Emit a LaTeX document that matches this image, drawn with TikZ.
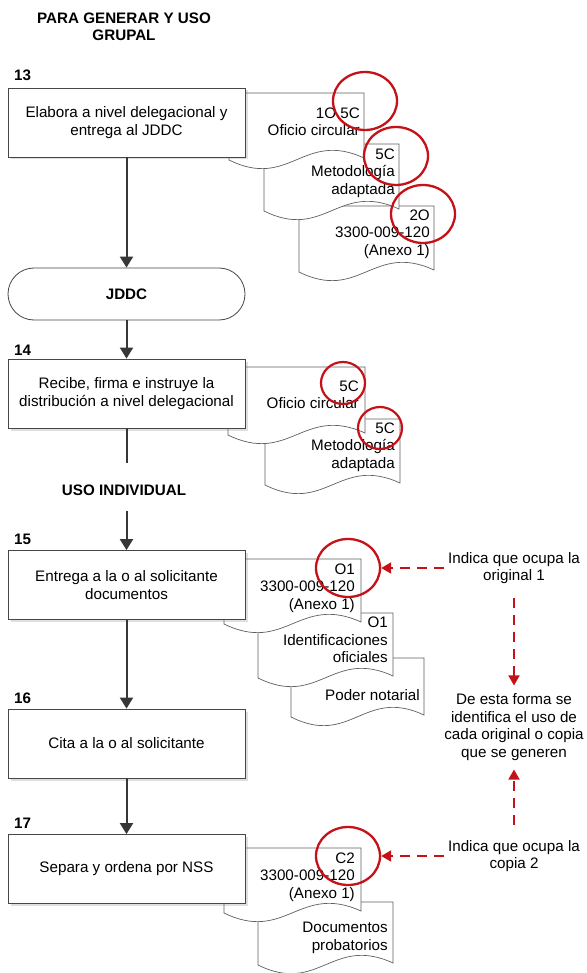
\documentclass[tikz,border=0pt]{standalone}
\usepackage{fontspec}
\setmainfont{Liberation Sans}
\usetikzlibrary{arrows.meta,shapes.geometric,shadows}
\definecolor{redc}{RGB}{196,18,24}
\definecolor{linec}{RGB}{55,55,55}
\definecolor{boxc}{RGB}{70,70,70}
\definecolor{docc}{RGB}{95,95,95}
\newcommand{\docshape}[4]{%
  \filldraw[docsty, shift={(#1,#2)}] (0,0) -- (#3,0) -- (#3,#4-2)
    .. controls (0.55*#3,#4-30) and (0.45*#3,#4+30) .. (0,#4) -- cycle;}
\tikzset{
  every node/.style={font=\fontsize{15.2}{17.5}\selectfont, text=black, inner sep=0pt},
  boldt/.style={font=\fontsize{15.2}{17.5}\selectfont\bfseries},
  procbox/.style={draw=boxc, line width=0.8pt, fill=white, minimum width=237pt,
    minimum height=69pt, align=center,
    drop shadow={shadow xshift=2.5pt, shadow yshift=-2.5pt, opacity=0.25}},
  termbox/.style={draw=boxc, line width=0.8pt, fill=white, rounded corners=26pt,
    minimum width=237pt, minimum height=52pt, boldt},
  docsty/.style={draw=docc, line width=0.7pt, fill=white},
  doctext/.style={anchor=east, align=right},
  redmark/.style={ellipse, draw=redc, line width=2.3pt, minimum width=64pt, minimum height=58pt},
  smallredmark/.style={ellipse, draw=redc, line width=2.2pt, minimum width=44pt, minimum height=42pt},
  conn/.style={draw=linec, line width=2pt, -{Triangle[width=13pt,length=11pt]}},
  plainconn/.style={draw=linec, line width=2pt},
  redarr/.style={draw=redc, line width=1.8pt, dash pattern=on 10pt off 7pt,
    -{Triangle[width=11pt,length=10pt]}},
  note/.style={align=center},
  numlbl/.style={boldt, anchor=west}
}
\begin{document}
\begin{tikzpicture}[x=1pt,y=-1pt]
\useasboundingbox (0,0) rectangle (586,973);

% ---------- documents (drawn back to front) ----------
\docshape{299}{206}{135}{66}
\docshape{264}{144}{135}{67}
\docshape{229}{93}{135}{67}

\docshape{265}{419}{135}{66}
\docshape{228}{367}{137}{68}

\docshape{291}{658}{133}{59}
\docshape{258}{613}{135}{65}
\docshape{224}{559}{137}{65}

\docshape{258}{902}{135}{63}
\docshape{224}{848}{137}{65}

% ---------- document texts ----------
\node[doctext] (t1a) at (360,122) {1O 5C\\Oficio circular};
\node[doctext] (t1b) at (395,173) {5C\\Metodología\\adaptada};
\node[doctext] (t1c) at (430,234) {2O\\3300-009-120\\(Anexo 1)};

\node[doctext] (t2a) at (359,395) {5C\\Oficio circular};
\node[doctext] (t2b) at (395,447) {5C\\Metodología\\adaptada};

\node[doctext] (t3a) at (355,588) {O1\\3300-009-120\\(Anexo 1)};
\node[doctext] (t3b) at (388,640) {O1\\Identificaciones\\oficiales};
\node[doctext] (t3c) at (420,695) {Poder notarial};

\node[doctext] (t5a) at (355,877) {C2\\3300-009-120\\(Anexo 1)};
\node[doctext] (t5b) at (388,938) {Documentos\\probatorios};

% ---------- titles and labels ----------
\node[boldt, align=center] (title) at (124,27) {PARA GENERAR Y USO\\GRUPAL};
\node[boldt] (uso) at (124,490) {USO INDIVIDUAL};
\node[numlbl] (n13) at (14,75) {13};
\node[numlbl] (n14) at (14,350) {14};
\node[numlbl] (n15) at (14,539) {15};
\node[numlbl] (n16) at (14,698) {16};
\node[numlbl] (n17) at (14,823) {17};

% ---------- process boxes ----------
\node[procbox] (b13) at (126.5,122.5) {Elabora a nivel delegacional y\\entrega al JDDC};
\node[termbox] (jddc) at (126.5,294) {JDDC};
\node[procbox] (b14) at (126.5,393.5) {Recibe, firma e instruye la\\distribución a nivel delegacional};
\node[procbox] (b15) at (126.5,585) {Entrega a la o al solicitante\\documentos};
\node[procbox] (b16) at (126.5,743.5) {Cita a la o al solicitante};
\node[procbox] (b17) at (126.5,869) {Separa y ordena por NSS};

\coordinate (e14) at (126.5,463);
\coordinate (s15) at (126.5,511);

% ---------- connectors ----------
\draw[conn] (b13.south) -- (jddc.north);
\draw[conn] (jddc.south) -- (b14.north);
\draw[plainconn] (b14.south) -- (e14);
\draw[conn] (s15) -- (b15.north);
\draw[conn] (b15.south) -- (b16.north);
\draw[conn] (b16.south) -- (b17.north);

% ---------- red marks ----------
\node[redmark] (c1a) at (365,101) {};
\node[redmark] (c1b) at (396,156) {};
\node[redmark] (c1c) at (423,214) {};
\node[smallredmark] (c2a) at (343,383) {};
\node[smallredmark] (c2b) at (380,428) {};
\node[redmark] (c3) at (348,568) {};
\node[redmark] (c5) at (348,856) {};

% ---------- annotations ----------
\node[note] (ann1) at (514,568) {Indica que ocupa la\\original 1};
\node[note] (ann2) at (514,727) {De esta forma se\\identifica el uso de\\cada original o copia\\que se generen};
\node[note] (ann3) at (514,856) {Indica que ocupa la\\copia 2};

\draw[redarr] ([xshift=-4pt]ann1.west) -- (c3.east);
\draw[redarr] ([yshift=-14pt]ann1.south) -- ([yshift=8pt]ann2.north);
\draw[redarr] ([yshift=15pt]ann3.north) -- ([yshift=-9pt]ann2.south);
\draw[redarr] ([xshift=-4pt]ann3.west) -- (c5.east);
\end{tikzpicture}
\end{document}
